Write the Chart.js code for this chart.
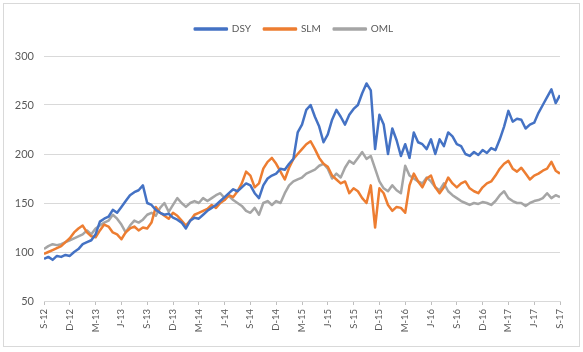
<!DOCTYPE html>
<html>
<head>
<meta charset="utf-8">
<script src="https://cdn.jsdelivr.net/npm/chart.js@4.4.1/dist/chart.umd.min.js"></script>
<style>
  html, body { margin: 0; padding: 0; background: #fff; }
  #wrap { position: relative; width: 583px; height: 352px; }
  #frame { position: absolute; left: 3px; top: 3px; width: 575px; height: 342px; border: 1px solid #d9d9d9; }
  canvas { position: absolute; left: 0; top: 0; }
</style>
</head>
<body>
<div id="wrap">
  <div id="frame"></div>
  <canvas id="chart" width="583" height="352"></canvas>
</div>
<script>
// quarter tick labels (one every 6 points)
const quarterLabels = ['S-12', 'D-12', 'M-13', 'J-13', 'S-13', 'D-13', 'M-14', 'J-14', 'S-14', 'D-14',
  'M-15', 'J-15', 'S-15', 'D-15', 'M-16', 'J-16', 'S-16', 'D-16', 'M-17', 'J-17', 'S-17'];

// values, roughly every half month
const dsy = [93, 95, 92, 96, 95, 97, 96, 100, 103, 108, 110, 112, 118, 131, 134, 136, 143, 140, 146, 152,
  158, 161, 163, 168, 150, 148, 143, 140, 138, 139, 135, 133, 130, 124, 132, 135, 134, 138, 142, 145,
  148, 152, 156, 160, 164, 162, 166, 170, 168, 160, 155, 168, 175, 178, 180, 185, 184, 190, 195, 222,
  230, 245, 250, 238, 228, 212, 220, 235, 245, 238, 230, 240, 246, 250, 262, 272, 265, 205, 240, 230,
  200, 226, 214, 198, 210, 196, 222, 212, 210, 205, 215, 200, 215, 208, 222, 218, 210, 208, 200, 198,
  202, 199, 204, 201, 206, 204, 215, 228, 244, 233, 236, 235, 226, 230, 232, 242, 250, 258, 266, 252, 260];

const slm = [98, 100, 102, 104, 106, 110, 114, 120, 124, 127, 120, 116, 115, 122, 128, 126, 120, 118, 113, 120,
  124, 126, 122, 125, 124, 130, 146, 140, 137, 134, 140, 137, 132, 127, 132, 138, 140, 142, 144, 148,
  145, 150, 153, 158, 156, 162, 170, 182, 178, 166, 170, 185, 192, 196, 190, 182, 174, 186, 195, 200,
  205, 210, 213, 205, 196, 190, 187, 178, 174, 170, 172, 160, 165, 162, 155, 150, 168, 125, 165, 160,
  148, 142, 146, 145, 140, 168, 180, 172, 166, 175, 178, 166, 160, 166, 176, 170, 166, 170, 172, 165,
  162, 160, 166, 170, 172, 178, 185, 190, 193, 185, 182, 186, 180, 174, 178, 180, 183, 185, 192, 183, 180];

const oml = [103, 106, 108, 107, 108, 110, 112, 114, 116, 118, 122, 118, 124, 127, 130, 132, 138, 134, 128, 120,
  127, 132, 130, 133, 138, 140, 137, 145, 150, 141, 148, 155, 150, 146, 150, 152, 150, 155, 152, 155,
  158, 160, 155, 157, 153, 150, 147, 142, 140, 145, 138, 150, 152, 148, 152, 150, 160, 168, 172, 174,
  176, 180, 182, 184, 188, 190, 185, 175, 180, 176, 186, 193, 190, 196, 202, 195, 198, 185, 172, 165,
  162, 168, 163, 160, 188, 178, 175, 172, 170, 176, 172, 166, 163, 170, 162, 158, 155, 152, 150, 148,
  150, 149, 151, 150, 148, 152, 158, 162, 155, 152, 150, 150, 147, 150, 152, 153, 155, 160, 155, 158, 156];

const seriesNames = ['DSY', 'SLM', 'OML'];
const seriesColors = ['#4472C4', '#ED7D31', '#A5A5A5'];

const textColor = '#595959';
const pts = arr => arr.map((v, i) => ({ x: i, y: v }));

// more room under the legend, and nudge it right so it sits over the plot centre
const legendTweak = {
  id: 'legendTweak',
  beforeInit(chart) {
    const fit = chart.legend.fit;
    chart.legend.fit = function() {
      fit.bind(chart.legend)();
      this.height += 12;
    };
  },
  afterLayout(chart) {
    chart.legend.left += 14;
    chart.legend.right += 14;
  }
};

const ctx = document.getElementById('chart');
new Chart(ctx, {
  type: 'line',
  data: {
    datasets: [dsy, slm, oml].map((arr, k) => ({
      label: seriesNames[k],
      data: pts(arr),
      borderColor: seriesColors[k],
      backgroundColor: seriesColors[k],
      borderWidth: 2.5,
      pointRadius: 0,
      tension: 0,
      borderJoinStyle: 'round'
    }))
  },
  options: {
    responsive: false,
    animation: false,
    layout: { padding: { left: 0, right: 23, top: 11, bottom: 8 } },
    plugins: {
      legend: {
        position: 'top',
        labels: {
          boxWidth: 32,
          boxHeight: 1,
          padding: 13,
          color: textColor,
          font: { family: 'Lato', size: 10 }
        }
      },
      tooltip: { enabled: false }
    },
    scales: {
      x: {
        type: 'linear',
        min: 0,
        max: 120,
        afterFit: s => { s.height = 43; },
        ticks: {
          stepSize: 6,
          autoSkip: false,
          minRotation: 90,
          maxRotation: 90,
          padding: 4,
          color: textColor,
          font: { family: 'Lato', size: 9.5 },
          callback: v => quarterLabels[Math.round(v / 6)]
        },
        grid: { drawOnChartArea: false, tickLength: 4, color: '#bfbfbf' },
        border: { color: '#d9d9d9' }
      },
      y: {
        min: 50,
        max: 300,
        afterFit: s => { s.width = 44; },
        ticks: {
          stepSize: 50,
          padding: 10,
          color: textColor,
          font: { family: 'Lato', size: 11 }
        },
        grid: { color: '#d9d9d9', drawTicks: false },
        border: { display: false }
      }
    }
  },
  plugins: [legendTweak]
});
</script>
</body>
</html>
